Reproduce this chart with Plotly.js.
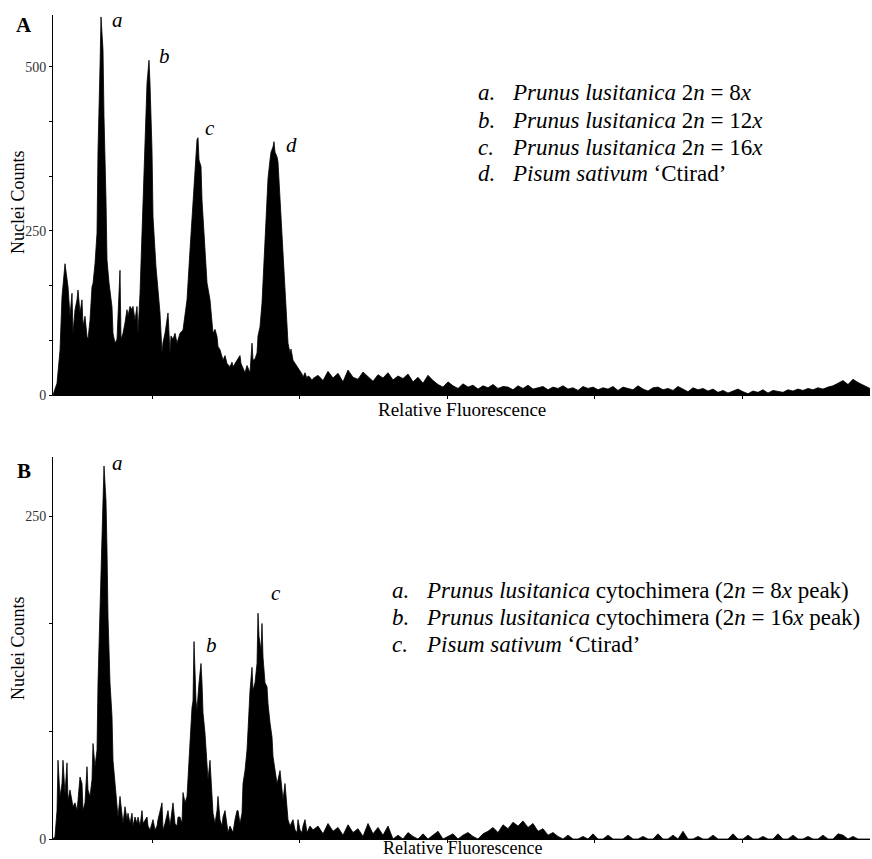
<!DOCTYPE html>
<html>
<head>
<meta charset="utf-8">
<script src="https://cdn.plot.ly/plotly-3.0.1.min.js"></script>
<style>
html,body{margin:0;padding:0;background:#fff;}
#chart{width:872px;height:859px;}
</style>
</head>
<body>
<div id="chart"></div>
<script>
// ---------- DATA ----------
// Panel A: flow cytometry histogram, main peak region (channel, nuclei count)
const channelsA = [0,1,4,7,9,12,14,15,17,19,20,22,24,25,27,29,30,32,34,35,37,39,40,42,44,45,47,48,50,51,53,54,56,59,60,62,64,65,67,68,70,72,74,75,77,79,80,82,84,85,87,89,90,92,94,96,97,99,100,103,105,107,109,110,112,114,115,117,118,120,122,124,127,130,132,134,137,140,142,144,145,146,148,149,151,154,157,159,160,162,164,165,167,170,172,174,177,179,180,182,184,187,188,190,192,194,197,199,200,202,204,205,207,209,210,212,214,215,217,218,220,221,222,224,225,227,229,230,232,234,235,237,238,240,242,244,246,247,249,250,252,254,255,257,259,260];
const countsA = [0,5,18,68,150,200,180,165,120,155,94,130,145,160,125,145,105,120,89,85,114,165,170,200,247,373,500,576,526,424,297,206,171,134,94,79,85,114,190,85,94,110,130,120,135,130,135,114,135,94,155,247,297,399,475,510,475,373,272,195,155,125,64,80,94,114,125,64,90,85,94,79,94,99,120,145,221,297,348,389,392,358,348,297,247,171,145,104,94,100,89,74,69,53,60,48,43,50,43,48,53,60,48,40,34,45,34,79,53,55,64,90,104,140,171,236,297,330,358,370,378,386,370,363,355,297,247,206,145,94,79,64,70,53,48,43,40,36,32,27,34,25,29,27,22,25];

// Panel B: main peak region
const channelsB = [0,2,4,5,7,9,10,12,14,15,17,19,20,22,24,25,27,29,30,32,34,35,37,39,40,42,44,45,47,49,50,51,53,54,55,57,59,60,62,64,65,67,69,70,72,74,75,77,79,80,82,84,85,87,89,90,94,95,97,100,102,104,105,109,110,112,115,117,120,122,124,125,127,129,130,132,134,135,137,139,140,141,143,144,146,148,149,150,152,154,155,157,159,160,162,164,165,167,169,170,172,174,175,177,179,180,182,184,185,187,189,190,192,194,195,197,199,200,202,204,205,206,208,209,210,212,214,215,217,219,220,222,224,225,227,229,230,232,234,235,237,240,242,244,245,247,249,250,252,254,257,260];
const countsB = [0,2,22,61,33,43,61,35,59,30,38,28,25,28,22,30,48,43,22,28,56,38,33,46,74,56,69,121,172,218,262,289,262,224,172,121,95,61,43,22,17,33,17,12,25,15,20,12,20,10,17,12,17,10,22,12,17,10,7,15,7,10,15,28,7,12,22,10,28,12,10,17,17,12,36,28,33,48,69,102,107,153,107,100,121,136,121,98,82,56,46,61,33,20,12,22,33,15,10,17,22,10,5,10,7,5,15,22,22,12,20,43,53,69,84,115,133,115,121,136,175,157,146,167,141,121,118,105,90,79,64,53,43,46,53,38,30,43,25,15,10,15,7,5,15,7,5,10,15,5,10,7];

// High-fluorescence tails (both panels share the channel list)
const tailChannels = [265,270,275,280,285,290,295,300,305,310,315,320,325,330,335,340,345,350,355,360,365,370,375,380,385,390,395,400,405,410,415,420,425,430,435,440,445,450,455,460,465,470,475,480,485,490,495,500,505,510,515,520,525,530,535,540,545,550,555,560,565,570,575,580,585,590,595,600,605,610,615,620,625,630,635,640,645,650,655,660,665,670,675,680,685,690,695,700,705,710,715,720,725,730,735,740,745,750,755,760,765,770,775,780,785,790,795,800,805,810,815,817];
const tailCountsA = [30,22,36,26,33,20,38,27,24,35,28,21,31,26,34,23,29,
  25,32,20,27,18,30,22,
  16,12,20,14,10,17,12,15,9,14,11,16,10,13,
  12,8,14,10,15,9,11,13,8,12,10,14,9,11,7,13,10,12,8,
  11,9,13,7,12,10,8,14,9,6,11,12,8,10,7,13,9,5,11,8,10,6,9,
  4,7,3,6,9,5,2,6,4,8,3,7,5,4,8,6,9,7,10,8,11,9,12,
  14,18,22,16,24,19,15,12,10];
const tailCountsB = [10,4,12,6,9,3,11,5,8,2,12,
  4,9,3,10,
  0,3,0,5,2,0,4,0,3,6,0,2,4,0,3,5,2,0,4,
  6,9,5,11,8,13,10,14,9,12,
  6,8,3,5,2,
  0,3,0,0,2,0,4,0,0,3,0,0,
  0,3,0,0,2,0,0,4,0,0,3,0,6,0,0,2,0,0,3,0,0,0,4,0,0,3,0,0,2,0,0,4,0,0,3,0,0,2,0,0,3,0,0,4,3,0,2,0,0,0,0];

// Axis ticks
const xTickVals = [99, 246.5, 394, 541.5, 689];
const yTickValsA = [0, 83.33, 166.67, 250, 333.33, 416.67, 500];
const yTickTextA = ['0', '', '', '250', '', '', '500'];
const yTickValsB = [0, 83.33, 166.67, 250];
const yTickTextB = ['0', '', '', '250'];

// Peak labels and legend texts
const peakLabelsA = ['a', 'b', 'c', 'd'];
const peakLabelsB = ['a', 'b', 'c'];
const legendLettersA = ['a.', 'b.', 'c.', 'd.'];
const legendTextsA = [
  '<i>Prunus lusitanica</i> 2<i>n</i> = 8<i>x</i>',
  '<i>Prunus lusitanica</i> 2<i>n</i> = 12<i>x</i>',
  '<i>Prunus lusitanica</i> 2<i>n</i> = 16<i>x</i>',
  '<i>Pisum sativum</i> \u2018Ctirad\u2019'
];
const legendLettersB = ['a.', 'b.', 'c.'];
const legendTextsB = [
  '<i>Prunus lusitanica</i> cytochimera (2<i>n</i> = 8<i>x</i> peak)',
  '<i>Prunus lusitanica</i> cytochimera (2<i>n</i> = 16<i>x</i> peak)',
  '<i>Pisum sativum</i> \u2018Ctirad\u2019'
];

// ---------- LAYOUT ----------
const W = 872, H = 859, ML = 53, MR = 2, MT = 15, MB = 20;
const plotW = W - ML - MR, plotH = H - MT - MB;
const px = v => (v - ML) / plotW;
const py = v => (H - MB - v) / plotH;
const FONT = '"Liberation Serif", "Times New Roman", serif';

const xA = channelsA.concat(tailChannels);
const yA = countsA.concat(tailCountsA);
const xB = channelsB.concat(tailChannels);
const yB = countsB.concat(tailCountsB);

const traces = [
  {x: xA, y: yA, xaxis: 'x', yaxis: 'y', type: 'scatter', mode: 'lines',
   line: {color: '#000', width: 0.8}, fill: 'tozeroy', fillcolor: '#000', hoverinfo: 'x+y'},
  {x: xB, y: yB, xaxis: 'x2', yaxis: 'y2', type: 'scatter', mode: 'lines',
   line: {color: '#000', width: 0.8}, fill: 'tozeroy', fillcolor: '#000', hoverinfo: 'x+y'}
];

function xAxis(anchor) {
  return {anchor: anchor, domain: [0, 1], range: [0, 817], showline: true, linecolor: '#000', linewidth: 1,
    ticks: 'outside', ticklen: 3, tickcolor: '#000', tickmode: 'array', tickvals: xTickVals,
    showticklabels: false, showgrid: false, zeroline: false, fixedrange: true};
}
function yAxis(anchor, dom, rng, tv, tt) {
  return {anchor: anchor, domain: dom, range: rng, showline: true, linecolor: '#000', linewidth: 1,
    ticks: 'outside', ticklen: 3, tickcolor: '#000', tickmode: 'array', tickvals: tv, ticktext: tt,
    tickfont: {family: FONT, size: 14, color: '#333'}, showgrid: false, zeroline: false, fixedrange: true};
}

const ann = [];
function addText(text, x, y, size, opts) {
  ann.push(Object.assign({text: text, xref: 'paper', yref: 'paper', x: px(x), y: py(y),
    showarrow: false, xanchor: 'center', yanchor: 'middle',
    font: {family: FONT, size: size, color: '#000'}}, opts || {}));
}
// axis titles
addText('Nuclei Counts', 18, 202, 18, {textangle: -90});
addText('Nuclei Counts', 18, 648, 18, {textangle: -90});
addText('Relative Fluorescence', 462, 410, 19);
addText('Relative Fluorescence', 462, 848, 18);
// panel letters
addText('<b>A</b>', 24, 25, 21);
addText('<b>B</b>', 24, 471, 21);
// peak labels
const peakPosA = [[117, 20], [164, 56], [210, 128], [291, 145]];
peakLabelsA.forEach((t, i) => addText('<i>' + t + '</i>', peakPosA[i][0], peakPosA[i][1], 21));
const peakPosB = [[117, 463], [211, 645], [276, 593]];
peakLabelsB.forEach((t, i) => addText('<i>' + t + '</i>', peakPosB[i][0], peakPosB[i][1], 21));
// legends
const rowsA = [92, 120, 147, 174];
legendLettersA.forEach((t, i) => {
  addText('<i>' + t + '</i>', 476, rowsA[i], 23, {xanchor: 'left'});
  addText(legendTextsA[i], 510, rowsA[i], 23, {xanchor: 'left'});
});
const rowsB = [590, 617, 644];
legendLettersB.forEach((t, i) => {
  addText('<i>' + t + '</i>', 390, rowsB[i], 23, {xanchor: 'left'});
  addText(legendTextsB[i], 424, rowsB[i], 23, {xanchor: 'left'});
});

const layout = {
  width: W, height: H,
  margin: {l: ML, r: MR, t: MT, b: MB, pad: 0},
  paper_bgcolor: '#fff', plot_bgcolor: '#fff',
  showlegend: false,
  font: {family: FONT, color: '#000'},
  xaxis: xAxis('y'),
  yaxis: yAxis('x', [py(395), 1], [0, 579], yTickValsA, yTickTextA),
  xaxis2: xAxis('y2'),
  yaxis2: yAxis('x2', [0, py(457)], [0, 296], yTickValsB, yTickTextB),
  annotations: ann
};

Plotly.newPlot('chart', traces, layout, {displayModeBar: false, staticPlot: true});
</script>
</body>
</html>
